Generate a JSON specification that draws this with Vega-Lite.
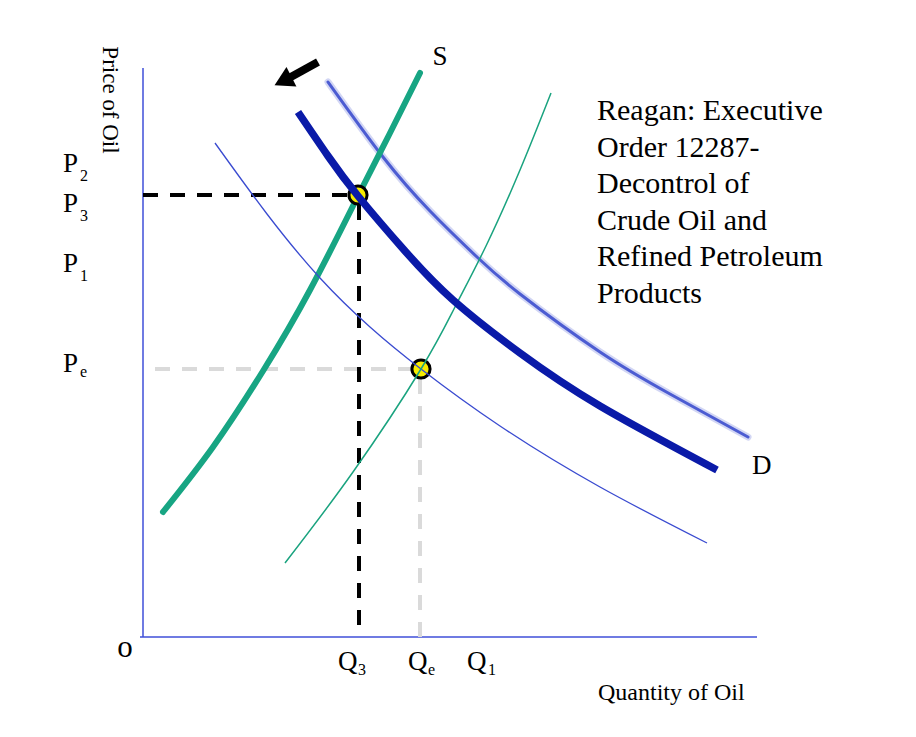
{
  "$schema": "https://vega.github.io/schema/vega-lite/v6.json",
  "width": 916,
  "height": 737,
  "autosize": {"type": "fit", "contains": "padding"},
  "padding": 0,
  "background": "white",
  "config": {"view": {"stroke": null}},
  "datasets": {
    "curves": [
      {"curve": "S", "q": 20, "p": 125}, {"curve": "S", "q": 70, "p": 190}, {"curve": "S", "q": 120, "p": 266}, {"curve": "S", "q": 167, "p": 347}, {"curve": "S", "q": 215, "p": 441}, {"curve": "S", "q": 246, "p": 502}, {"curve": "S", "q": 277, "p": 564},
      {"curve": "S1", "q": 142, "p": 74}, {"curve": "S1", "q": 210, "p": 165}, {"curve": "S1", "q": 278, "p": 268}, {"curve": "S1", "q": 312, "p": 330}, {"curve": "S1", "q": 343, "p": 391}, {"curve": "S1", "q": 377, "p": 467}, {"curve": "S1", "q": 408, "p": 544},
      {"curve": "D1", "q": 72, "p": 494}, {"curve": "D1", "q": 124, "p": 423}, {"curve": "D1", "q": 177, "p": 359}, {"curve": "D1", "q": 227, "p": 310}, {"curve": "D1", "q": 278, "p": 268}, {"curve": "D1", "q": 357, "p": 211}, {"curve": "D1", "q": 457, "p": 150}, {"curve": "D1", "q": 564, "p": 94},
      {"curve": "D", "q": 155, "p": 525}, {"curve": "D", "q": 185, "p": 481}, {"curve": "D", "q": 215, "p": 441}, {"curve": "D", "q": 262, "p": 386}, {"curve": "D", "q": 310, "p": 337}, {"curve": "D", "q": 377, "p": 284}, {"curve": "D", "q": 457, "p": 231}, {"curve": "D", "q": 574, "p": 167},
      {"curve": "D2", "q": 185, "p": 555}, {"curve": "D2", "q": 240, "p": 480}, {"curve": "D2", "q": 287, "p": 426}, {"curve": "D2", "q": 334, "p": 380}, {"curve": "D2", "q": 377, "p": 343}, {"curve": "D2", "q": 457, "p": 285}, {"curve": "D2", "q": 527, "p": 243}, {"curve": "D2", "q": 605, "p": 200}
    ],
    "axes": [
      {"q": 0, "p": 0, "q2": 0, "p2": 569},
      {"q": -3, "p": 0, "q2": 614, "p2": 0}
    ],
    "blackdash": [
      {"q": 0, "p": 442, "q2": 215, "p2": 442},
      {"q": 216, "p": 432, "q2": 216, "p2": 0}
    ],
    "graydash": [
      {"q": 12, "p": 268, "q2": 270, "p2": 268},
      {"q": 277, "p": 258, "q2": 277, "p2": 0}
    ],
    "shaft": [{"q": 175, "p": 575, "q2": 146, "p2": 559}],
    "head": [{"q": 140, "p": 556}],
    "dots": [{"q": 215, "p": 442}, {"q": 278, "p": 268}],
    "big": [
      {"t": "P", "q": -80, "p": 465}, {"t": "P", "q": -80, "p": 425}, {"t": "P", "q": -80, "p": 365}, {"t": "P", "q": -80, "p": 265},
      {"t": "Q", "q": 195, "p": -33}, {"t": "Q", "q": 265, "p": -33}, {"t": "Q", "q": 324, "p": -33},
      {"t": "D", "q": 609, "p": 163}
    ],
    "sub": [
      {"t": "2", "q": -63, "p": 456}, {"t": "3", "q": -63, "p": 416}, {"t": "1", "q": -63, "p": 356}, {"t": "e", "q": -63, "p": 260},
      {"t": "3", "q": 215, "p": -38}, {"t": "e", "q": 285, "p": -38}, {"t": "1", "q": 345, "p": -38}
    ],
    "centered": [
      {"t": "S", "q": 297, "p": 572}
    ],
    "origin": [
      {"t": "o", "q": -18, "p": -20}
    ],
    "note": [
      {"t": "Reagan: Executive", "q": 454, "p": 517},
      {"t": "Order 12287-", "q": 454, "p": 480},
      {"t": "Decontrol of", "q": 454, "p": 444},
      {"t": "Crude Oil and", "q": 454, "p": 407},
      {"t": "Refined Petroleum", "q": 454, "p": 371},
      {"t": "Products", "q": 454, "p": 334}
    ],
    "ytitle": [{"t": "Price of Oil", "q": -33, "p": 537}],
    "xtitle": [{"t": "Quantity of Oil", "q": 455, "p": -63}]
  },
  "encoding": {
    "x": {"field": "q", "type": "quantitative", "scale": {"domain": [-143, 773], "nice": false, "zero": false}, "axis": null},
    "y": {"field": "p", "type": "quantitative", "scale": {"domain": [-100, 637], "nice": false, "zero": false}, "axis": null}
  },
  "layer": [
    {"data": {"name": "axes"}, "mark": {"type": "rule", "color": "#3f4fd8", "strokeWidth": 1.5}, "encoding": {"x2": {"field": "q2"}, "y2": {"field": "p2"}}},
    {"data": {"name": "graydash"}, "mark": {"type": "rule", "color": "#dadada", "strokeWidth": 4, "strokeDash": [15, 12]}, "encoding": {"x2": {"field": "q2"}, "y2": {"field": "p2"}}},
    {"data": {"name": "curves"}, "transform": [{"filter": "datum.curve === 'D2'"}], "mark": {"type": "line", "color": "#7d8ae0", "strokeWidth": 7, "opacity": 0.35, "interpolate": "natural", "strokeCap": "round"}},
    {"data": {"name": "curves"}, "transform": [{"filter": "datum.curve === 'D2'"}], "mark": {"type": "line", "color": "#4c5cd2", "strokeWidth": 3, "interpolate": "natural", "strokeCap": "round"}},
    {"data": {"name": "curves"}, "transform": [{"filter": "datum.curve === 'S'"}], "mark": {"type": "line", "color": "#17a583", "strokeWidth": 6, "interpolate": "natural", "strokeCap": "round"}},
    {"data": {"name": "dots"}, "mark": {"type": "point", "shape": "circle", "filled": true, "fill": "#f7ec00", "stroke": "#000000", "strokeWidth": 3, "size": 330, "opacity": 1}},
    {"data": {"name": "blackdash"}, "mark": {"type": "rule", "color": "#000000", "strokeWidth": 4, "strokeDash": [15, 12]}, "encoding": {"x2": {"field": "q2"}, "y2": {"field": "p2"}}},
    {"data": {"name": "curves"}, "transform": [{"filter": "datum.curve === 'D1'"}], "mark": {"type": "line", "color": "#3a4bd0", "strokeWidth": 1.3, "interpolate": "natural"}},
    {"data": {"name": "curves"}, "transform": [{"filter": "datum.curve === 'S1'"}], "mark": {"type": "line", "color": "#1aa37f", "strokeWidth": 1.5, "interpolate": "natural"}},
    {"data": {"name": "curves"}, "transform": [{"filter": "datum.curve === 'D'"}], "mark": {"type": "line", "color": "#0a1aa8", "strokeWidth": 7.5, "interpolate": "natural"}},
    {"data": {"name": "shaft"}, "mark": {"type": "rule", "color": "#000000", "strokeWidth": 8}, "encoding": {"x2": {"field": "q2"}, "y2": {"field": "p2"}}},
    {"data": {"name": "head"}, "mark": {"type": "point", "shape": "triangle-up", "filled": true, "color": "#000000", "size": 480, "angle": 243, "opacity": 1}},
    {"data": {"name": "big"}, "mark": {"type": "text", "font": "Liberation Serif", "fontSize": 27, "align": "left", "baseline": "alphabetic", "color": "#000000"}, "encoding": {"text": {"field": "t"}}},
    {"data": {"name": "sub"}, "mark": {"type": "text", "font": "Liberation Serif", "fontSize": 16, "align": "left", "baseline": "alphabetic", "color": "#000000"}, "encoding": {"text": {"field": "t"}}},
    {"data": {"name": "centered"}, "mark": {"type": "text", "font": "Liberation Serif", "fontSize": 27, "align": "center", "baseline": "alphabetic", "color": "#000000"}, "encoding": {"text": {"field": "t"}}},
    {"data": {"name": "origin"}, "mark": {"type": "text", "font": "Liberation Serif", "fontSize": 31, "align": "center", "baseline": "alphabetic", "color": "#000000"}, "encoding": {"text": {"field": "t"}}},
    {"data": {"name": "note"}, "mark": {"type": "text", "font": "Liberation Serif", "fontSize": 30, "align": "left", "baseline": "alphabetic", "color": "#000000"}, "encoding": {"text": {"field": "t"}}},
    {"data": {"name": "ytitle"}, "mark": {"type": "text", "font": "Liberation Serif", "fontSize": 23, "align": "center", "baseline": "middle", "angle": 90, "color": "#000000"}, "encoding": {"text": {"field": "t"}}},
    {"data": {"name": "xtitle"}, "mark": {"type": "text", "font": "Liberation Serif", "fontSize": 24, "align": "left", "baseline": "alphabetic", "color": "#000000"}, "encoding": {"text": {"field": "t"}}}
  ]
}
